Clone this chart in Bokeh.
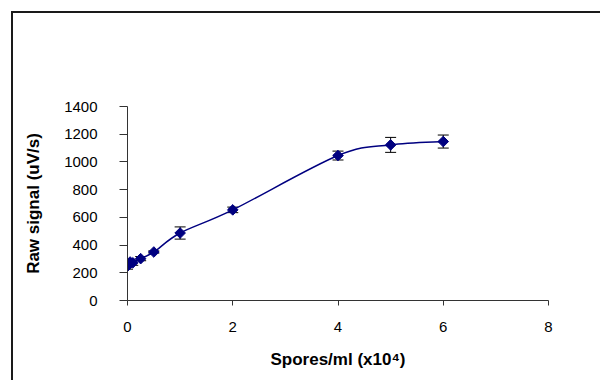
import numpy as np
from bokeh.plotting import figure
from bokeh.models import ColumnDataSource, Whisker, TeeHead, Range1d, FixedTicker
from bokeh.embed import file_html
from bokeh.resources import INLINE

# data
spores = [0, 0.05, 0.1, 0.25, 0.5, 1, 2, 4, 5, 6]
signal = [248, 278, 272, 302, 350, 487, 654, 1046, 1123, 1147]
error = [22, 20, 18, 15, 8, 44, 20, 32, 54, 47]
x_ticks = [0, 2, 4, 6, 8]
y_ticks = [0, 200, 400, 600, 800, 1000, 1200, 1400]

NAVY = "#000080"
FONT = "Liberation Sans"

p = figure(width=600, height=380, output_backend="svg", toolbar_location=None,
           x_range=Range1d(0, 8), y_range=Range1d(0, 1400),
           min_border_left=127, min_border_right=52, min_border_top=106, min_border_bottom=80)
p.outline_line_color = None
p.xgrid.visible = False
p.ygrid.visible = False
p.background_fill_color = None
p.border_fill_color = None
# outer chart border (left and top edges; the others lie outside the picture)
p.styles = {
    "background": ("linear-gradient(#1a1a1a,#1a1a1a) 11px 11px / 589px 2px no-repeat, "
                   "linear-gradient(#1a1a1a,#1a1a1a) 11px 11px / 2px 369px no-repeat, white"),
}

# smoothed line (Bezier segments through the data points)
xs = np.array(spores, dtype=float)
ys = np.array(signal, dtype=float)
n = len(xs)
px = np.concatenate([[xs[0]], xs, [xs[-1]]])
py = np.concatenate([[ys[0]], ys, [ys[-1]]])
t = 1 / 6
bz = dict(x0=xs[:-1], y0=ys[:-1], x1=xs[1:], y1=ys[1:],
          cx0=xs[:-1] + (px[2:n + 1] - px[0:n - 1]) * t,
          cy0=ys[:-1] + (py[2:n + 1] - py[0:n - 1]) * t,
          cx1=xs[1:] - (px[3:n + 2] - px[1:n]) * t,
          cy1=ys[1:] - (py[3:n + 2] - py[1:n]) * t)
p.bezier(x0="x0", y0="y0", x1="x1", y1="y1", cx0="cx0", cy0="cy0", cx1="cx1", cy1="cy1",
         source=ColumnDataSource(bz), line_color=NAVY, line_width=1.5)

src = ColumnDataSource(dict(x=spores, y=signal,
                            lo=[a - b for a, b in zip(signal, error)],
                            hi=[a + b for a, b in zip(signal, error)]))
w = Whisker(base="x", lower="lo", upper="hi", source=src, line_color="black", line_width=1,
            upper_head=TeeHead(size=11, line_color="black", line_width=1),
            lower_head=TeeHead(size=11, line_color="black", line_width=1))
p.add_layout(w)
p.scatter("x", "y", source=src, marker="square", angle=np.pi / 4, size=7.5,
          fill_color=NAVY, line_color=NAVY)

for ax in (p.xaxis[0], p.yaxis[0]):
    ax.axis_line_color = "#333333"
    ax.major_tick_line_color = "#333333"
    ax.minor_tick_line_color = None
    ax.major_tick_in = 0
    ax.major_label_text_font = FONT
    ax.major_label_text_font_size = "15px"
    ax.major_label_text_color = "black"
    ax.axis_label_text_font = FONT
    ax.axis_label_text_font_size = "17px"
    ax.axis_label_text_font_style = "bold"
    ax.axis_label_text_color = "black"

p.xaxis.ticker = FixedTicker(ticks=x_ticks)
p.yaxis.ticker = FixedTicker(ticks=y_ticks)
p.xaxis.major_tick_out = 5
p.yaxis.major_tick_out = 8
p.xaxis.major_label_standoff = 16
p.yaxis.major_label_standoff = 22
p.xaxis.axis_label = "Spores/ml (x10\u2074)"
p.yaxis.axis_label = "Raw signal (uV/s)"
p.xaxis.axis_label_standoff = 15
p.yaxis.axis_label_standoff = 18

open("out.html", "w").write(file_html(p, INLINE))
